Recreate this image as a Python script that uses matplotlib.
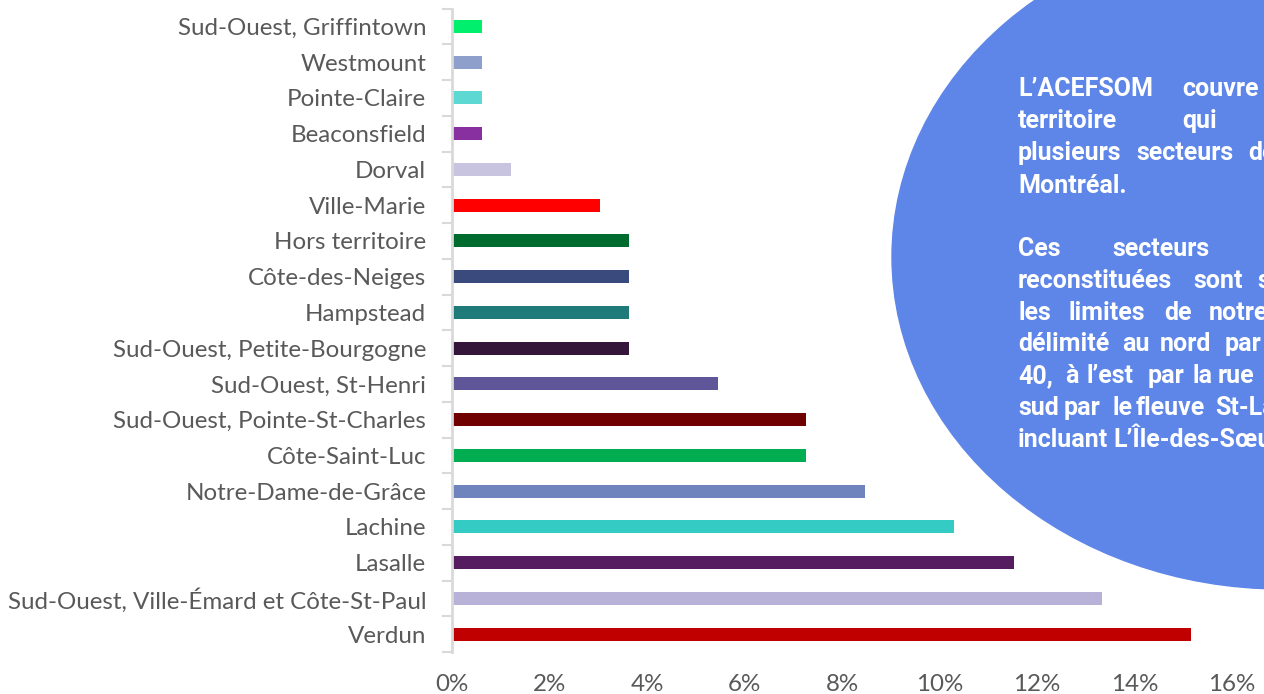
import matplotlib
matplotlib.use("Agg")
import matplotlib.pyplot as plt
from matplotlib.patches import Ellipse
import numpy as np

# ---- data (top to bottom as shown) ----
categories = [
    "Sud-Ouest, Griffintown", "Westmount", "Pointe-Claire", "Beaconsfield",
    "Dorval", "Ville-Marie", "Hors territoire", "Côte-des-Neiges", "Hampstead",
    "Sud-Ouest, Petite-Bourgogne", "Sud-Ouest, St-Henri",
    "Sud-Ouest, Pointe-St-Charles", "Côte-Saint-Luc", "Notre-Dame-de-Grâce",
    "Lachine", "Lasalle", "Sud-Ouest, Ville-Émard et Côte-St-Paul", "Verdun",
]
values = [0.61, 0.61, 0.61, 0.61, 1.21, 3.03, 3.64, 3.64, 3.64, 3.64,
          5.45, 7.27, 7.27, 8.48, 10.30, 11.52, 13.33, 15.15]
colors = ["#00F06E", "#8E9FCB", "#5ED8D2", "#8830A0", "#C8C4E0", "#FF0000",
          "#006B2E", "#3A4A7C", "#1E7B7A", "#34163A", "#5E5699", "#700000",
          "#00AD50", "#6F84BC", "#33CBC4", "#561C60", "#B8B2D8", "#C00000"]
xticks = [0, 2, 4, 6, 8, 10, 12, 14, 16]
xticklabels = ["0%", "2%", "4%", "6%", "8%", "10%", "12%", "14%", "16%"]

para1 = [
    ["L’ACEFSOM", "couvre", "un"],
    ["territoire", "qui", "couvre"],
    ["plusieurs", "secteurs", "de"],
    ["Montréal."],
]
para2 = [
    ["Ces", "secteurs", "et"],
    ["reconstituées", "sont", "situées"],
    ["les", "limites", "de", "notre"],
    ["délimité", "au", "nord", "par"],
    ["40,", "à", "l’est", "par", "la", "rue"],
    ["sud", "par", "le", "fleuve", "St-Laurent"],
    ["incluant", "L’Île-des-Sœurs."],
]
# word start positions (pixels) for justified lines
word_x1 = [[1018, 1182, 1300], [1018, 1182, 1300], [1018, 1136, 1248], [1018]]
word_x2 = [[1018, 1112, 1300], [1018, 1193, 1257], [1018, 1068, 1164, 1209],
           [1018, 1122, 1160, 1225], [1018, 1065, 1087, 1148, 1192, 1218],
           [1018, 1064, 1112, 1136, 1215], [1018, 1113]]

W, H = 1264, 694
fig = plt.figure(figsize=(W / 100, H / 100), dpi=100)
fig.patch.set_facecolor("white")

gray = "#595959"
label_font = "Lato"

ax = fig.add_axes([452 / W, 1 - 652 / H, (1232 - 452) / W, (652 - 8.6) / H])
n = len(categories)
y = np.arange(n)[::-1]
ax.barh(y, values, height=0.365, color=colors, zorder=2)
ax.set_xlim(0, 16)
ax.set_ylim(-0.5, n - 0.5)
ax.set_yticks(y)
ax.set_yticklabels(categories, fontsize=17.4, color=gray, family=label_font)
ax.set_xticks(xticks)
ax.set_xticklabels(xticklabels, fontsize=17.4, color=gray, family=label_font)
ax.tick_params(axis="y", length=0, pad=18.5)
ax.tick_params(axis="x", length=0, pad=16)
# minor ticks at category boundaries
ax.set_yticks(np.arange(-0.5, n, 1.0), minor=True)
ax.tick_params(axis="y", which="minor", length=7, width=1.5, color="#D9D9D9")
for s in ["top", "right", "bottom"]:
    ax.spines[s].set_visible(False)
ax.spines["left"].set_color("#D9D9D9")
ax.spines["left"].set_linewidth(2)

# ---- overlay: ellipse with text ----
ov = fig.add_axes([0, 0, 1, 1], facecolor="none")
ov.set_xlim(0, W)
ov.set_ylim(H, 0)
ov.axis("off")
ov.add_patch(Ellipse((1282, 257), 2 * 390, 2 * 332, color="#5E86E9", zorder=1))

fs = 18.0
base1 = [96, 128, 160, 192.5]
base2 = [256, 288, 319.5, 351, 383, 415, 447]
for lines, xs, bases in [(para1, word_x1, base1), (para2, word_x2, base2)]:
    for words, wx, b in zip(lines, xs, bases):
        for w, x in zip(words, wx):
            ov.text(x, b, w, color="white", fontsize=fs, fontweight="bold",
                    family="Roboto", va="baseline", ha="left", zorder=3)

fig.savefig("out.png", dpi=100)
